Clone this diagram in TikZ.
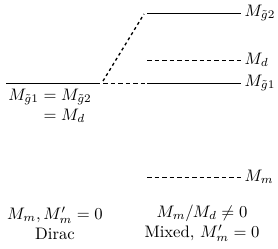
\documentclass[tikz,border=0pt]{standalone}
\usepackage{amsmath}
\usetikzlibrary{positioning}

\begin{document}
\begin{tikzpicture}[x=0.6pt,y=-0.6pt,
  level/.style={semithick},
  split/.style={semithick,dash pattern=on 2.7pt off 1.8pt},
  mixline/.style={thick,dash pattern=on 1.8pt off 1.8pt},
  tag/.style={inner sep=1pt}]
\useasboundingbox (0,0) rectangle (278,248);
% level end points
\coordinate (a0) at (6,83);
\coordinate (a1) at (100,83);
\coordinate (m0) at (103,83);
\coordinate (b1) at (147,83);
\coordinate (b2) at (241,83);
\coordinate (c1) at (147,13);
\coordinate (c2) at (241,13);
\coordinate (d1) at (147,60);
\coordinate (d2) at (241,60);
\coordinate (e1) at (147,177);
\coordinate (e2) at (241,177);
\coordinate (s0) at (103,81);
\coordinate (s1) at (144,14);
\draw[level] (a0)--(a1);
\draw[split] (m0)--(b1);
\draw[level] (b1)--(b2);
\draw[level] (c1)--(c2);
\draw[split] (d1)--(d2);
\draw[split] (e1)--(e2);
\draw[mixline] (s0)--(s1);
% labels
\node[tag,right=1pt of c2] (lg2) {$M_{\tilde{g}2}$};
\node[tag,right=1pt of d2] (ld) {$M_d$};
\node[tag,right=1pt of b2] (lg1) {$M_{\tilde{g}1}$};
\node[tag,right=1pt of e2] (lm) {$M_m$};
\node (deg) at (50,106) {$\begin{array}{r@{}l} M_{\tilde{g}1} & {}= M_{\tilde{g}2}\\ & {}= M_d\end{array}$};
\node[align=center] (dirac) at (55,223) {$M_m, M'_m=0$\\Dirac};
\node[align=center] (mixed) at (202,223) {$M_m/M_d\neq 0$\\Mixed, $M'_m=0$};
\end{tikzpicture}
\end{document}
